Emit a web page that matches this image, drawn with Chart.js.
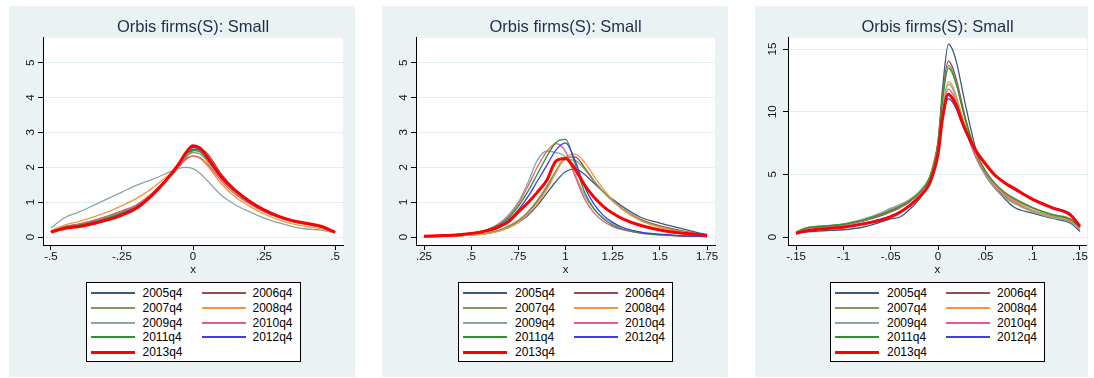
<!DOCTYPE html>
<html><head><meta charset="utf-8">
<script src="https://cdn.jsdelivr.net/npm/chart.js@4.4.1/dist/chart.umd.min.js"></script>
<style>
html,body{margin:0;padding:0;background:#fff;width:1094px;height:378px;overflow:hidden;font-family:"Liberation Sans",Arial,sans-serif;}
canvas{position:absolute;}
.leg{position:absolute;box-sizing:border-box;border:1px solid #000;background:#fff;width:215px;height:80px;}
.leg .ln{position:absolute;width:44px;}
.leg .tx{position:absolute;font-size:12px;line-height:14px;color:#000;white-space:nowrap;}
</style></head><body>
<canvas id="c1" width="346" height="371" style="left:9px;top:6px"></canvas>
<canvas id="c2" width="346" height="371" style="left:382px;top:6px"></canvas>
<canvas id="c3" width="333" height="371" style="left:755px;top:6px"></canvas>
<script>
// ---- categories / series ----
const seriesNames = ['2005q4','2006q4','2007q4','2008q4','2009q4','2010q4','2011q4','2012q4','2013q4'];
const seriesColors = ['#3a5a7e','#9b4650','#7f9c5c','#f09a3a','#8ca79d','#e0607f','#2e922e','#3c3cf0','#ff0000'];
const seriesWidths = [1.3,1.3,1.3,1.3,1.3,1.3,1.3,1.3,3];
const panelTitle = 'Orbis firms(S): Small';
const xAxisTitle = 'x';

// ---- panel 1 ----
const p1X = [-0.5,-0.45,-0.4,-0.35,-0.3,-0.25,-0.2,-0.15,-0.1,-0.05,-0.025,0,0.025,0.05,0.1,0.15,0.2,0.25,0.3,0.35,0.4,0.45,0.5];
const p1Y2005 = [0.15,0.28,0.35,0.44,0.55,0.70,0.88,1.18,1.60,2.08,2.35,2.52,2.48,2.25,1.72,1.30,0.98,0.75,0.58,0.45,0.37,0.30,0.14];
const p1Y2006 = [0.15,0.30,0.37,0.47,0.60,0.74,0.90,1.20,1.58,2.00,2.28,2.48,2.52,2.40,1.80,1.35,1.02,0.78,0.60,0.47,0.38,0.30,0.14];
const p1Y2007 = [0.16,0.30,0.37,0.46,0.58,0.72,0.90,1.20,1.60,2.05,2.30,2.42,2.38,2.18,1.66,1.27,0.97,0.74,0.57,0.44,0.36,0.29,0.13];
const p1Y2008 = [0.18,0.35,0.45,0.58,0.72,0.90,1.10,1.36,1.68,2.02,2.22,2.32,2.25,2.05,1.52,1.14,0.88,0.66,0.50,0.38,0.30,0.24,0.12];
const p1Y2009 = [0.26,0.56,0.72,0.91,1.10,1.29,1.48,1.63,1.80,1.97,2.00,1.96,1.82,1.62,1.20,0.92,0.72,0.54,0.41,0.30,0.23,0.20,0.12];
const p1Y2010 = [0.15,0.30,0.38,0.48,0.60,0.75,0.92,1.22,1.60,2.02,2.24,2.33,2.28,2.10,1.60,1.22,0.94,0.72,0.56,0.44,0.36,0.28,0.13];
const p1Y2011 = [0.15,0.28,0.34,0.43,0.54,0.68,0.86,1.17,1.60,2.10,2.37,2.48,2.44,2.23,1.70,1.30,0.99,0.76,0.58,0.45,0.38,0.30,0.14];
const p1Y2012 = [0.14,0.26,0.32,0.41,0.51,0.66,0.85,1.16,1.59,2.10,2.40,2.57,2.52,2.30,1.74,1.34,1.03,0.79,0.61,0.47,0.39,0.31,0.14];
const p1Y2013 = [0.14,0.25,0.30,0.39,0.49,0.63,0.82,1.15,1.58,2.10,2.42,2.62,2.55,2.30,1.72,1.33,1.02,0.78,0.60,0.47,0.39,0.31,0.14];
const p1XTicks = [-0.5,-0.25,0,0.25,0.5];
const p1XLabels = ['-.5','-.25','0','.25','.5'];
const p1YTicks = [0,1,2,3,4,5];

// ---- panel 2 ----
const p2X = [0.25,0.35,0.45,0.55,0.6,0.65,0.7,0.75,0.8,0.85,0.9,0.95,1.0,1.05,1.1,1.15,1.2,1.25,1.3,1.4,1.5,1.6,1.75];
const p2Y2005 = [0.01,0.02,0.04,0.08,0.12,0.18,0.28,0.42,0.62,0.90,1.25,1.60,1.88,1.95,1.80,1.55,1.30,1.08,0.88,0.56,0.40,0.26,0.06];
const p2Y2006 = [0.01,0.02,0.04,0.08,0.12,0.19,0.30,0.46,0.70,1.02,1.42,1.90,2.28,2.30,2.00,1.62,1.30,1.03,0.82,0.50,0.32,0.20,0.05];
const p2Y2007 = [0.01,0.02,0.04,0.08,0.12,0.20,0.32,0.48,0.72,1.05,1.45,1.90,2.22,2.20,1.95,1.60,1.30,1.03,0.80,0.48,0.30,0.18,0.04];
const p2Y2008 = [0.01,0.02,0.04,0.07,0.11,0.17,0.27,0.42,0.65,0.95,1.35,1.85,2.30,2.38,2.15,1.75,1.38,1.05,0.80,0.46,0.28,0.16,0.04];
const p2Y2009 = [0.02,0.04,0.08,0.16,0.25,0.40,0.65,1.00,1.55,2.20,2.46,2.42,2.30,1.80,1.20,0.80,0.55,0.38,0.27,0.13,0.07,0.04,0.02];
const p2Y2010 = [0.02,0.04,0.08,0.16,0.24,0.38,0.60,0.95,1.45,2.00,2.45,2.68,2.45,1.75,1.10,0.70,0.45,0.30,0.21,0.11,0.06,0.03,0.01];
const p2Y2011 = [0.02,0.04,0.08,0.15,0.23,0.36,0.56,0.88,1.30,1.80,2.30,2.72,2.80,2.10,1.30,0.82,0.52,0.34,0.23,0.11,0.06,0.03,0.01];
const p2Y2012 = [0.02,0.04,0.07,0.14,0.20,0.32,0.50,0.78,1.15,1.60,2.05,2.50,2.70,2.20,1.45,0.95,0.62,0.42,0.28,0.14,0.08,0.04,0.02];
const p2Y2013 = [0.02,0.04,0.07,0.14,0.20,0.30,0.45,0.72,0.98,1.28,1.62,2.18,2.25,1.95,1.50,1.15,0.88,0.68,0.53,0.33,0.20,0.12,0.05];
const p2XTicks = [0.25,0.5,0.75,1,1.25,1.5,1.75];
const p2XLabels = ['.25','.5','.75','1','1.25','1.5','1.75'];
const p2YTicks = [0,1,2,3,4,5];

// ---- panel 3 ----
const p3X = [-0.15,-0.14,-0.13,-0.12,-0.1,-0.08,-0.06,-0.05,-0.04,-0.03,-0.02,-0.01,-0.005,0,0.005,0.011,0.015,0.02,0.025,0.03,0.04,0.05,0.06,0.07,0.08,0.1,0.12,0.14,0.15];
const p3Y2005 = [0.35,0.40,0.45,0.50,0.58,0.78,1.20,1.45,1.60,2.20,3.00,4.30,5.60,7.60,12.0,15.4,15.0,13.8,12.0,10.2,7.00,5.00,3.90,3.10,2.40,1.90,1.50,1.10,0.45];
const p3Y2006 = [0.30,0.55,0.70,0.78,0.95,1.25,1.70,2.00,2.35,2.80,3.50,4.60,5.80,7.60,11.5,14.05,13.6,12.4,10.8,9.20,6.60,5.00,4.00,3.30,2.80,2.05,1.60,1.25,0.70];
const p3Y2007 = [0.35,0.70,0.82,0.88,1.00,1.35,1.85,2.20,2.50,2.95,3.60,4.60,5.70,7.40,11.2,13.7,13.3,12.1,10.5,9.00,6.60,5.10,4.10,3.40,2.90,2.15,1.70,1.35,0.75];
const p3Y2008 = [0.30,0.60,0.75,0.82,0.98,1.30,1.80,2.10,2.45,2.90,3.55,4.50,5.50,7.00,10.3,12.4,12.1,11.1,9.80,8.60,6.50,5.10,4.10,3.40,2.85,2.10,1.60,1.30,0.70];
const p3Y2009 = [0.35,0.72,0.85,0.90,1.05,1.40,1.95,2.30,2.60,3.00,3.60,4.50,5.40,6.90,10.2,12.2,11.9,10.9,9.60,8.40,6.30,4.90,3.90,3.20,2.70,2.00,1.55,1.20,0.60];
const p3Y2010 = [0.30,0.62,0.75,0.82,0.98,1.30,1.80,2.10,2.40,2.85,3.50,4.40,5.30,6.80,10.0,11.8,11.5,10.6,9.40,8.30,6.40,5.10,4.20,3.50,3.00,2.30,1.80,1.45,0.75];
const p3Y2011 = [0.40,0.72,0.82,0.88,1.02,1.35,1.80,2.10,2.45,2.90,3.50,4.50,5.50,7.20,11.0,13.5,13.1,12.0,10.5,9.10,6.80,5.30,4.30,3.60,3.10,2.35,1.80,1.40,0.80];
const p3Y2012 = [0.30,0.50,0.60,0.68,0.82,1.08,1.45,1.70,2.05,2.55,3.25,4.20,5.20,6.60,9.50,11.05,10.8,10.1,9.10,8.20,6.80,5.80,4.95,4.30,3.80,3.05,2.40,1.85,0.90];
const p3Y2013 = [0.28,0.48,0.58,0.65,0.78,1.03,1.35,1.60,1.98,2.50,3.20,4.10,5.10,6.60,9.60,11.4,11.1,10.4,9.30,8.40,6.90,5.85,4.95,4.35,3.90,3.00,2.35,1.75,0.85];
const p3XTicks = [-0.15,-0.1,-0.05,0,0.05,0.1,0.15];
const p3XLabels = ['-.15','-.1','-.05','0','.05','.1','.15'];
const p3YTicks = [0,5,10,15];

Chart.defaults.font.family = '"Liberation Sans", Arial, sans-serif';
Chart.defaults.color = '#111';

const bgPlugin = {
  id: 'bg',
  beforeDraw(chart) {
    const {ctx, chartArea: a} = chart;
    ctx.save();
    ctx.fillStyle = '#eaf2f3';
    ctx.fillRect(0, 0, chart.width, chart.height);
    ctx.fillStyle = '#ffffff';
    ctx.fillRect(a.left, a.top, a.right - a.left, a.bottom - a.top);
    ctx.restore();
  }
};

function makeChart(id, canvasLeft, xs, ysList, xTicks, xLabels, yTicks, xr, yr, padRight, yWidth) {
  const datasets = ysList.map((ys, i) => ({
    label: seriesNames[i],
    data: xs.map((x, j) => ({x: x, y: ys[j]})),
    borderColor: seriesColors[i],
    backgroundColor: seriesColors[i],
    borderWidth: seriesWidths[i],
    pointRadius: 0,
    cubicInterpolationMode: 'monotone',
    fill: false,
    order: -i
  }));
  const chart = new Chart(document.getElementById(id), {
    type: 'line',
    data: {datasets},
    plugins: [bgPlugin],
    options: {
      responsive: false,
      animation: false,
      devicePixelRatio: 1,
      layout: {padding: {left: 0, right: padRight, top: 0, bottom: 100}},
      plugins: {
        legend: {display: false},
        tooltip: {enabled: false},
        title: {
          display: true, text: panelTitle, fullSize: false,
          color: '#1f2d4d', font: {size: 16.5, weight: 'normal'},
          padding: {top: 12, bottom: 0}
        }
      },
      scales: {
        x: {
          type: 'linear', min: xr[0], max: xr[1],
          afterBuildTicks: s => { s.ticks = xTicks.map(v => ({value: v})); },
          afterFit: s => { s.height = 32; },
          ticks: {
            autoSkip: false, maxRotation: 0, minRotation: 0, padding: 0,
            font: {size: 11.5}, color: '#111',
            callback: v => { const k = xTicks.findIndex(t => Math.abs(t - v) < 1e-9); return k >= 0 ? xLabels[k] : ''; }
          },
          grid: {drawOnChartArea: false, drawTicks: true, tickLength: 5, tickColor: '#000', tickWidth: 1},
          border: {display: true, color: '#000', width: 1},
          title: {display: true, text: xAxisTitle, font: {size: 11.5}, color: '#111', padding: {top: 0, bottom: 0}}
        },
        y: {
          type: 'linear', min: yr[0], max: yr[1],
          afterBuildTicks: s => { s.ticks = yTicks.map(v => ({value: v})); },
          afterFit: s => { s.width = yWidth; },
          ticks: {
            autoSkip: false, minRotation: 90, maxRotation: 90, padding: 4, crossAlign: 'center',
            font: {size: 11.5}, color: '#111',
            callback: v => String(v)
          },
          grid: {drawOnChartArea: true, color: '#e3eef0', lineWidth: 1, drawTicks: true, tickLength: 5, tickColor: '#000', tickWidth: 1},
          border: {display: true, color: '#000', width: 1}
        }
      }
    }
  });
  // HTML legend built from the chart's own datasets
  const a = chart.chartArea;
  const box = document.createElement('div');
  box.className = 'leg';
  box.style.left = (canvasLeft + (a.left + a.right) / 2 - 107.5) + 'px';
  box.style.top = '282px';
  chart.data.datasets.forEach((ds, k) => {
    const col = k % 2, row = Math.floor(k / 2);
    const cy = 11 + row * 14.75 - 1;
    const lw = Math.max(2, ds.borderWidth);
    const ln = document.createElement('div');
    ln.className = 'ln';
    ln.style.left = (col ? 115 : 4) + 'px';
    ln.style.top = (cy - lw / 2) + 'px';
    ln.style.height = lw + 'px';
    ln.style.background = ds.borderColor;
    const tx = document.createElement('div');
    tx.className = 'tx';
    tx.style.left = (col ? 166 : 56) + 'px';
    tx.style.top = (cy - 7) + 'px';
    tx.textContent = ds.label;
    box.appendChild(ln); box.appendChild(tx);
  });
  document.body.appendChild(box);
  return chart;
}

makeChart('c1', 9, p1X, [p1Y2005,p1Y2006,p1Y2007,p1Y2008,p1Y2009,p1Y2010,p1Y2011,p1Y2012,p1Y2013],
  p1XTicks, p1XLabels, p1YTicks, [-0.528, 0.528], [-0.229, 5.714], 12, 34);
makeChart('c2', 382, p2X, [p2Y2005,p2Y2006,p2Y2007,p2Y2008,p2Y2009,p2Y2010,p2Y2011,p2Y2012,p2Y2013],
  p2XTicks, p2XLabels, p2YTicks, [0.2076, 1.792], [-0.229, 5.714], 13, 34);
makeChart('c3', 755, p3X, [p3Y2005,p3Y2006,p3Y2007,p3Y2008,p3Y2009,p3Y2010,p3Y2011,p3Y2012,p3Y2013],
  p3XTicks, p3XLabels, p3YTicks, [-0.1585, 0.1574], [-0.636, 15.9], 1, 33);
</script>
</body></html>
